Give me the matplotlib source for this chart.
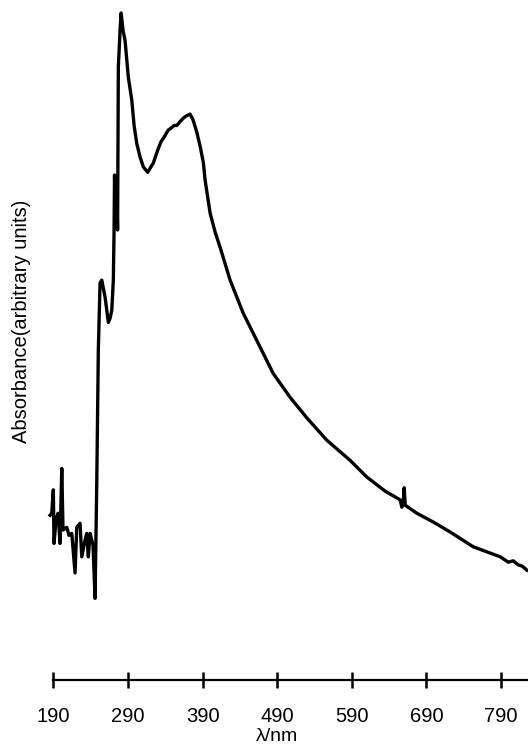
import matplotlib
matplotlib.use("Agg")
import matplotlib.pyplot as plt

plt.rcParams["font.family"] = ["Liberation Sans", "DejaVu Sans"]

# wavelength (nm) and absorbance (arbitrary units)
wavelength = [
    185.6, 187.9, 190.0, 190.9, 193.6, 196.3, 199.0, 201.3, 203.0, 208.0,
    211.0, 214.7, 219.1, 221.4, 225.8, 228.1, 232.5, 234.8, 236.9, 239.2,
    241.5, 243.2, 245.9, 248.2, 250.3, 252.6, 254.9, 259.3, 263.7, 266.0,
    268.3, 270.4, 271.4, 272.0, 273.4, 274.7, 276.1, 277.1, 279.4, 280.8,
    283.4, 286.1, 290.5, 295.1, 298.2, 301.8, 306.2, 310.6, 316.5, 319.6,
    324.0, 327.6, 330.8, 334.4, 339.7, 343.8, 348.7, 351.8, 355.4, 359.9,
    364.3, 367.9, 373.2, 377.3, 382.2, 386.7, 391.1, 393.4, 400.1, 407.0,
    413.5, 426.9, 444.3, 467.1, 484.5, 507.3, 530.0, 556.5, 587.7, 610.1,
    634.6, 654.7, 657.0, 658.8, 660.1, 661.5, 677.1, 699.0, 721.7, 752.6,
    788.8, 799.5, 806.2, 812.9, 818.3, 824.6,
]
absorbance = [
    0.246, 0.249, 0.284, 0.204, 0.239, 0.249, 0.204, 0.316, 0.224, 0.228,
    0.216, 0.219, 0.160, 0.228, 0.234, 0.184, 0.209, 0.219, 0.184, 0.219,
    0.209, 0.201, 0.122, 0.294, 0.493, 0.593, 0.597, 0.572, 0.534, 0.540,
    0.552, 0.597, 0.672, 0.754, 0.679, 0.746, 0.672, 0.915, 0.970, 0.996,
    0.970, 0.955, 0.900, 0.866, 0.828, 0.801, 0.781, 0.766, 0.758, 0.764,
    0.772, 0.784, 0.794, 0.804, 0.813, 0.821, 0.825, 0.828, 0.828, 0.834,
    0.839, 0.842, 0.845, 0.836, 0.818, 0.797, 0.772, 0.746, 0.697, 0.668,
    0.646, 0.597, 0.548, 0.497, 0.458, 0.422, 0.391, 0.358, 0.328, 0.303,
    0.282, 0.269, 0.258, 0.264, 0.287, 0.261, 0.249, 0.236, 0.221, 0.199,
    0.184, 0.176, 0.178, 0.172, 0.170, 0.164,
]
tick_values = [190, 290, 390, 490, 590, 690, 790]

fig = plt.figure(figsize=(5.28, 7.45), dpi=100)
ax = fig.add_axes([0.101, 0.0872, 0.899, 0.899])

ax.plot(wavelength, absorbance, color="black", lw=2.4, clip_on=False,
        solid_joinstyle="round")

ax.set_xlim(190, 826)
ax.set_ylim(0, 1)

for side in ["left", "right", "top"]:
    ax.spines[side].set_visible(False)
ax.spines["bottom"].set_linewidth(1.6)
ax.set_yticks([])
ax.set_xticks(tick_values)
ax.set_xticklabels([str(t) for t in tick_values], fontsize=14.5)
ax.tick_params(axis="x", direction="inout", length=11, width=1.8, pad=14)

ax.set_xlabel("λ/nm", fontsize=14, labelpad=0, va="center")
ax.xaxis.set_label_coords(0.471, -0.084)

fig.text(0.04, 0.569, "Absorbance(arbitrary units)", rotation=90,
         ha="center", va="center", fontsize=14.5)

fig.savefig("out.png", dpi=100)
